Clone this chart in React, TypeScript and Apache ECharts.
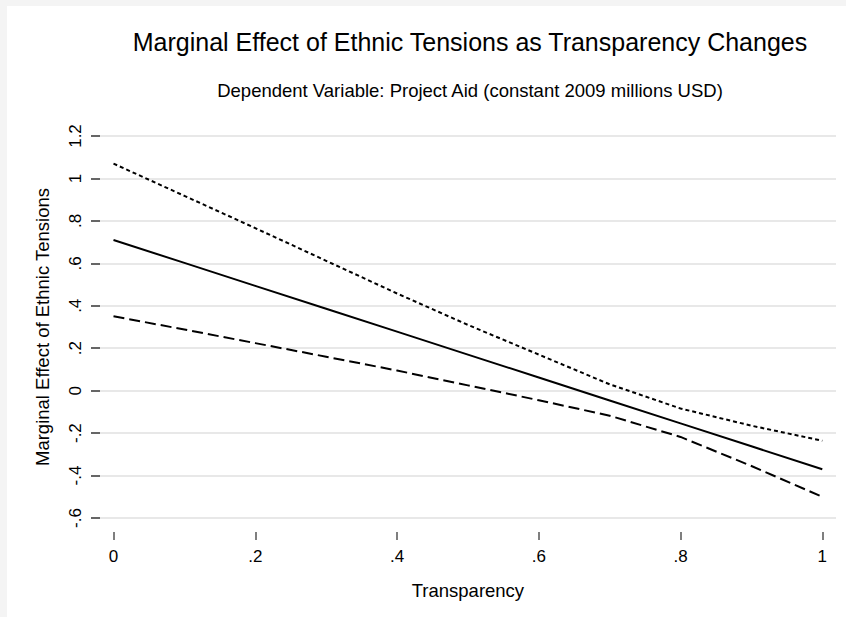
import React, { useEffect, useRef } from "react";
import * as echarts from "echarts";

const transparency = [0, 0.1, 0.2, 0.3, 0.4, 0.5, 0.6, 0.7, 0.8, 0.9, 1];
const marginalEffect = [0.71, 0.602, 0.494, 0.386, 0.278, 0.17, 0.062, -0.046, -0.154, -0.262, -0.37];
const upperBound = [1.07, 0.918, 0.766, 0.612, 0.458, 0.31, 0.17, 0.03, -0.084, -0.165, -0.236];
const lowerBound = [0.351, 0.288, 0.224, 0.16, 0.095, 0.025, -0.045, -0.118, -0.218, -0.355, -0.5];

const xTickLabels = ["0", ".2", ".4", ".6", ".8", "1"];
const yTickLabels = ["-.6", "-.4", "-.2", "0", ".2", ".4", ".6", ".8", "1", "1.2"];

const titleText = "Marginal Effect of Ethnic Tensions as Transparency Changes";
const subtitleText = "Dependent Variable: Project Aid (constant 2009 millions USD)";
const xName = "Transparency";
const yName = "Marginal Effect of Ethnic Tensions";

const FONT = '"Liberation Sans", Arial, Helvetica, sans-serif';
const yMin = -0.6;
const yMax = 1.2;
const yStep = 0.2;
const xStep = 0.2;

export default function App() {
  const ref = useRef<HTMLDivElement>(null);
  useEffect(() => {
    if (!ref.current) return;
    const chart = echarts.init(ref.current, undefined, { renderer: "svg" });
    const pairs = (ys: number[]) => transparency.map((x, i) => [x, ys[i]]);
    const yLabel = (v: number) => yTickLabels[Math.round((v - yMin) / yStep)] ?? "";
    const xLabel = (v: number) => xTickLabels[Math.round(v / xStep)] ?? "";
    chart.setOption({
      animation: false,
      backgroundColor: "transparent",
      textStyle: { fontFamily: FONT },
      graphic: [
        {
          type: "text",
          x: 470,
          y: 42,
          style: {
            text: titleText,
            font: `25px ${FONT}`,
            fill: "#000",
            textAlign: "center",
            textVerticalAlign: "middle",
            align: "center",
            verticalAlign: "middle",
          },
        },
        {
          type: "text",
          x: 470,
          y: 90,
          style: {
            text: subtitleText,
            font: `18.5px ${FONT}`,
            fill: "#000",
            textAlign: "center",
            textVerticalAlign: "middle",
            align: "center",
            verticalAlign: "middle",
          },
        },
      ],
      grid: [
        { left: 100, right: 10, top: 136, bottom: 99 },
        { left: 113.5, right: 23.7, top: 136, bottom: 99 },
      ],
      xAxis: [
        { type: "value", gridIndex: 0, min: 0, max: 1, show: false },
        {
          type: "value",
          gridIndex: 1,
          min: 0,
          max: 1,
          interval: xStep,
          offset: 14,
          position: "bottom",
          name: xName,
          nameLocation: "middle",
          nameGap: 49,
          nameTextStyle: { fontSize: 18.5, color: "#000", fontFamily: FONT },
          axisLine: { show: false, onZero: false },
          axisTick: { show: true, length: 8, inside: false, lineStyle: { color: "#555", width: 1.5 } },
          axisLabel: { formatter: xLabel, fontSize: 17, color: "#000", margin: 16, fontFamily: FONT },
          splitLine: { show: false },
        },
      ],
      yAxis: [
        {
          type: "value",
          gridIndex: 0,
          min: yMin,
          max: yMax,
          interval: yStep,
          name: yName,
          nameLocation: "middle",
          nameGap: 48,
          nameRotate: 90,
          nameTextStyle: { fontSize: 18.5, color: "#000", fontFamily: FONT },
          axisLine: { show: false },
          axisTick: { show: true, length: 9, lineStyle: { color: "#666", width: 2 } },
          axisLabel: { formatter: yLabel, rotate: 90, fontSize: 17, color: "#000", margin: 16, fontFamily: FONT },
          splitLine: { show: true, lineStyle: { color: "#e8e8e8", width: 2 } },
        },
        {
          type: "value",
          gridIndex: 1,
          min: yMin,
          max: yMax,
          interval: yStep,
          show: false,
        },
      ],
      series: [
        {
          type: "line",
          name: "Upper",
          xAxisIndex: 1,
          yAxisIndex: 1,
          data: pairs(upperBound),
          showSymbol: false,
          lineStyle: { color: "#000", width: 2, type: [4, 3] },
        },
        {
          type: "line",
          name: "Marginal effect",
          xAxisIndex: 1,
          yAxisIndex: 1,
          data: pairs(marginalEffect),
          showSymbol: false,
          lineStyle: { color: "#000", width: 2, type: "solid" },
        },
        {
          type: "line",
          name: "Lower",
          xAxisIndex: 1,
          yAxisIndex: 1,
          data: pairs(lowerBound),
          showSymbol: false,
          lineStyle: { color: "#000", width: 2, type: [11, 5] },
        },
      ],
    });
    return () => chart.dispose();
  }, []);
  return (
    <div style={{ position: "fixed", left: 0, top: 0, width: 846, height: 617, background: "#f4f4f4" }}>
      <div style={{ position: "absolute", left: 7, top: 6, right: 0, bottom: 0, background: "#fff" }} />
      <div ref={ref} style={{ position: "absolute", left: 0, top: 0, width: 846, height: 617 }} />
    </div>
  );
}
